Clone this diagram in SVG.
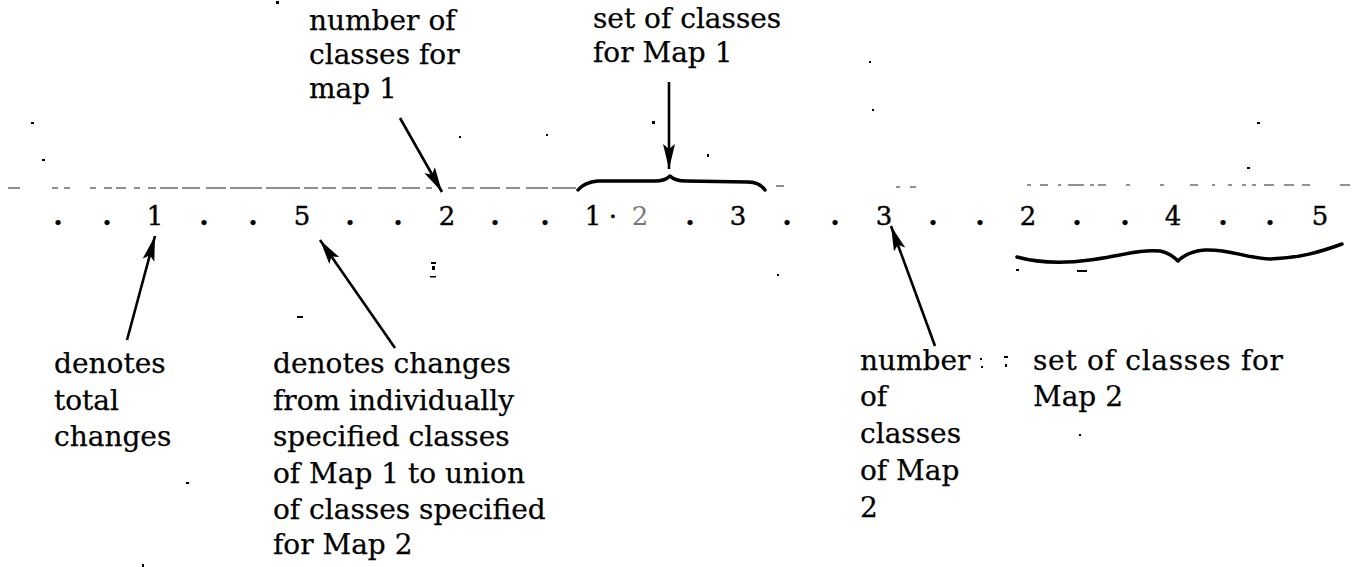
<svg xmlns="http://www.w3.org/2000/svg" width="1359" height="567" viewBox="0 0 1359 567">
  <style>
    .lbl { font-family: "DejaVu Serif", "Liberation Serif", serif; font-size: 28px; fill: #000; stroke: #000; stroke-width: 0.25; }
    .row { font-family: "DejaVu Serif", "Liberation Serif", serif; font-size: 26px; fill: #000; text-anchor: middle; stroke: #000; stroke-width: 0.4; }
    .dot { font-weight: bold; }
    .arrow { stroke: #000; stroke-width: 2.6; fill: none; marker-end: url(#ah); }
    .brace { stroke: #000; stroke-width: 3.5; fill: none; stroke-linecap: round; stroke-linejoin: round; }
    .rule { stroke: #222; stroke-width: 1.2; fill: none; }
    .speck { fill: #000; }
  </style>
  <defs>
    <marker id="ah" markerUnits="userSpaceOnUse" markerWidth="27" markerHeight="14" refX="25" refY="6" orient="auto">
      <path d="M0,0 L25,6 L0,12 L5,6 z" fill="#000"/>
    </marker>
  </defs>
  <rect x="0" y="0" width="1359" height="567" fill="#fff"/>

  <!-- faint ruled line above the number row -->
  <g id="rule">
    <path class="rule" d="M8,188 H20 M52,188 H58 M64,188 H70 M90,188 H96 M104,188 H112 M116,188 H126 M134,188 H140 M148,188 H156 M160,188 H178 M182,188 H200 M206,188 H226 M230,188 H262 M266,188 H300 M304,188 H318 M322,188 H336 M342,188 H356 M360,188 H372 M378,188 H396 M402,188 H420 M426,188 H432 M448,188 H456 M462,188 H474 M480,188 H500 M506,188 H520 M526,188 H548 M552,188 H576"/>
    <path class="rule" d="M1027,185 H1031 M1040,185 H1048 M1058,185 H1061 M1068,185 H1084 M1090,185 H1094 M1098,185 H1106 M1126,185 H1130 M1160,185 H1164 M1190,185 H1198 M1212,185 H1215 M1228,185 H1232 M1242,185 H1246 M1252,185 H1256 M1264,185 H1274 M1284,185 H1294 M1302,185 H1310 M1340,185 H1350"/>
    <path class="rule" d="M776,186 H784 M896,187 H900 M910,187 H916"/>
  </g>

  <!-- braces -->
  <g id="brace-map1">
    <path class="brace" d="M578,190 C582,185 587,182 598,181 L655,181 C663,181 667,179 670,176 C673,179 677,181 686,181 L748,182 C757,182 762,186 765,190"/>
  </g>
  <g id="brace-map2">
    <path class="brace" d="M1017,257 C1035,262 1060,264 1090,260 C1120,256 1140,249 1160,251 C1170,253 1175,258 1178,261 C1182,257 1190,251 1205,250 C1230,249 1245,258 1270,259 C1300,258 1320,252 1342,244"/>
  </g>

  <!-- number row -->
  <g id="row">
    <text class="row dot" x="58" y="225">.</text>
    <text class="row dot" x="107" y="225">.</text>
    <text class="row" x="155" y="225">1</text>
    <text class="row dot" x="204" y="225">.</text>
    <text class="row dot" x="253" y="225">.</text>
    <text class="row" x="302" y="225">5</text>
    <text class="row dot" x="350" y="225">.</text>
    <text class="row dot" x="398" y="225">.</text>
    <text class="row" x="447" y="225">2</text>
    <text class="row dot" x="495" y="225">.</text>
    <text class="row dot" x="545" y="225">.</text>
    <text class="row" x="593" y="225">1</text>
    <text class="row" x="613" y="225">·</text>
    <text class="row" x="640" y="225" style="fill:#777;stroke:none">2</text>
    <text class="row dot" x="690" y="225">.</text>
    <text class="row" x="738" y="225">3</text>
    <text class="row dot" x="787" y="225">.</text>
    <text class="row dot" x="835" y="225">.</text>
    <text class="row" x="884" y="225">3</text>
    <text class="row dot" x="933" y="225">.</text>
    <text class="row dot" x="980" y="225">.</text>
    <text class="row" x="1028" y="225">2</text>
    <text class="row dot" x="1077" y="225">.</text>
    <text class="row dot" x="1125" y="225">.</text>
    <text class="row" x="1173" y="225">4</text>
    <text class="row dot" x="1223" y="225">.</text>
    <text class="row dot" x="1270" y="225">.</text>
    <text class="row" x="1320" y="225">5</text>
  </g>

  <!-- labels -->
  <g id="lbl-number-map1">
    <text class="lbl" x="309" y="30">number of</text>
    <text class="lbl" x="309" y="64">classes for</text>
    <text class="lbl" x="309" y="98">map 1</text>
  </g>
  <g id="lbl-set-map1">
    <text class="lbl" x="593" y="28">set of classes</text>
    <text class="lbl" x="593" y="62">for Map 1</text>
  </g>
  <g id="lbl-total">
    <text class="lbl" x="54" y="373">denotes</text>
    <text class="lbl" x="54" y="410">total</text>
    <text class="lbl" x="54" y="446">changes</text>
  </g>
  <g id="lbl-changes">
    <text class="lbl" x="273" y="373">denotes changes</text>
    <text class="lbl" x="273" y="410">from individually</text>
    <text class="lbl" x="273" y="446">specified classes</text>
    <text class="lbl" x="273" y="483">of Map 1 to union</text>
    <text class="lbl" x="273" y="519">of classes specified</text>
    <text class="lbl" x="273" y="554">for Map 2</text>
  </g>
  <g id="lbl-number-map2">
    <text class="lbl" x="860" y="370">number</text>
    <text class="lbl" x="860" y="406">of</text>
    <text class="lbl" x="860" y="443">classes</text>
    <text class="lbl" x="860" y="480">of Map</text>
    <text class="lbl" x="860" y="517">2</text>
  </g>
  <g id="lbl-set-map2">
    <text class="lbl" x="1033" y="370" textLength="250">set of classes for</text>
    <text class="lbl" x="1033" y="406">Map 2</text>
  </g>

  <!-- connectors -->
  <g id="connectors">
    <line class="arrow" x1="400" y1="118" x2="442" y2="192"/>
    <line class="arrow" x1="669" y1="82" x2="669" y2="169"/>
    <line class="arrow" x1="127" y1="340" x2="155" y2="236"/>
    <line class="arrow" x1="395" y1="348" x2="320" y2="240"/>
    <line class="arrow" x1="935" y1="346" x2="891" y2="226"/>
  </g>

  <!-- scan specks -->
  <g id="specks">
    <rect class="speck" x="276" y="1" width="3" height="3"/>
    <rect class="speck" x="31" y="122" width="3" height="2"/>
    <rect class="speck" x="42" y="159" width="3" height="2"/>
    <rect class="speck" x="459" y="136" width="2" height="2"/>
    <rect class="speck" x="546" y="134" width="2" height="2"/>
    <rect class="speck" x="652" y="121" width="3" height="3"/>
    <rect class="speck" x="707" y="154" width="2" height="3"/>
    <rect class="speck" x="869" y="61" width="2" height="2"/>
    <rect class="speck" x="872" y="109" width="2" height="2"/>
    <rect class="speck" x="1257" y="122" width="3" height="2"/>
    <rect class="speck" x="1247" y="167" width="3" height="2"/>
    <rect class="speck" x="431" y="262" width="5" height="2"/>
    <rect class="speck" x="432" y="266" width="3" height="4"/>
    <rect class="speck" x="430" y="276" width="6" height="1.5"/>
    <rect class="speck" x="297" y="316" width="6" height="2"/>
    <rect class="speck" x="777" y="274" width="2" height="2"/>
    <rect class="speck" x="1016" y="269" width="3" height="2"/>
    <rect class="speck" x="1077" y="270" width="10" height="2"/>
    <rect class="speck" x="186" y="482" width="3" height="2"/>
    <rect class="speck" x="142" y="564" width="2" height="3"/>
    <rect class="speck" x="1079" y="434" width="2" height="2"/>
    <rect class="speck" x="980" y="358" width="2" height="2"/>
    <rect class="speck" x="981" y="366" width="2" height="2"/>
    <rect class="speck" x="1004" y="356" width="4" height="2"/>
    <rect class="speck" x="1005" y="364" width="2" height="3"/>
  </g>
</svg>
